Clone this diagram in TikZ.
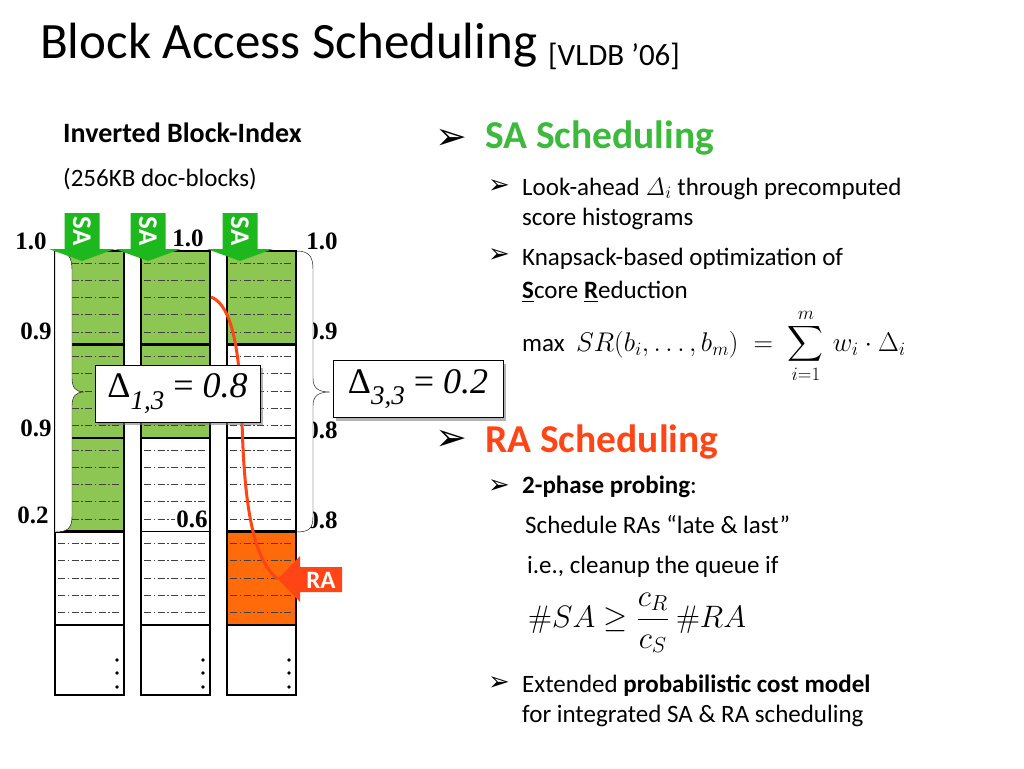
\RequirePackage{fix-cm}
\documentclass[tikz,border=0pt]{standalone}
\usepackage{amsmath}
\usepackage[no-math]{fontspec}
\setmainfont{Carlito}
\newfontfamily\timesfont{Liberation Serif}
\newfontfamily\dingfont{DejaVu Sans}
\usetikzlibrary{positioning, shadows}
\definecolor{blkgreen}{HTML}{8DC653}
\definecolor{sagreen}{HTML}{1DB81D}
\definecolor{hdgreen}{HTML}{3DB93D}
\definecolor{raorange}{HTML}{FF6A0A}
\definecolor{rared}{HTML}{FF4515}
\newcommand{\fsz}[1]{\fontsize{#1}{#1}\selectfont}

\begin{document}
\begin{tikzpicture}[x=1pt,y=-1pt,
  lbl/.style={font=\timesfont\bfseries\fsz{25}, inner sep=0pt},
  txt/.style={anchor=base west, inner sep=0pt, font=\fsz{25}},
  bul/.style={inner sep=0pt, font=\dingfont\fsz{26}},
  dbox/.style={draw, fill=white, thin, minimum width=165pt, minimum height=57pt, inner sep=0pt, font=\timesfont\fsz{36}, drop shadow={shadow xshift=3pt, shadow yshift=-3pt, fill=black!50, opacity=0.6}},
  dashln/.style={black!75, line width=0.7pt, dash pattern=on 7pt off 2.5pt on 1.5pt off 2.5pt},
  thickblk/.style={line width=2.8pt}] %page is 1024x768, y runs down
   \useasboundingbox (0,0) rectangle (1024,768);
   % title
   \node[txt, font=\fsz{51}] (title) at (40,59) {Block Access Scheduling};
   \node[txt, font=\fsz{31}] (vldb) at (548,66) {[VLDB ’06]};
   \node[txt, font=\bfseries\fsz{28}] (ibi) at (63,142) {Inverted Block-Index};
   \node[txt] (dblk) at (63,186) {(256KB doc-blocks)};
   % coloured blocks
   \foreach \x/\n in {55/3,141/2,227/1}
     \foreach \k in {1,...,\n}
       \fill[blkgreen] (\x,{251+93.5*(\k-1)}) rectangle ++(69,93.5);
   \fill[raorange] (227,531.5) rectangle ++(69,93.5);
   % dash-dot rules inside the blocks
   \foreach \x in {55,141,227}
     \foreach \k in {0,...,3}
       \foreach \j in {0,...,4}
         \draw[dashln] (\x+3,{251+93.5*\k+12+17.25*\j}) -- ++(63,0);
   % column frames and dots
   \foreach \x in {55,141,227}{
     \draw[line width=1.3pt] (\x,251) rectangle ++(69,444);
     \foreach \k in {1,...,4} \draw[line width=1.3pt] (\x,{251+93.5*\k}) -- ++(69,0);
     \foreach \d in {660,673,687} \fill (\x+62,\d) circle (1.8pt);
   }
   \foreach \x/\n in {55/3,141/2,227/1}
     \foreach \k in {1,...,\n}
       \draw[thickblk] (\x,{251+93.5*(\k-1)}) rectangle ++(69,93.5);
   \draw[thickblk] (227,531.5) rectangle ++(69,93.5);
   % score labels
   \node[lbl] (a1) at (31,241) {1.0};
   \node[lbl] (a2) at (36,331) {0.9};
   \node[lbl] (a3) at (36,428) {0.9};
   \node[lbl] (a4) at (33,515) {0.2};
   \node[lbl] (b1) at (188,238) {1.0};
   \node[lbl, fill=white, inner sep=1pt] (b4) at (192,519) {0.6};
   \node[lbl] (c1) at (322,241) {1.0};
   \node[lbl] (c2) at (322,331) {0.9};
   \node[lbl] (c3) at (322,430) {0.8};
   \node[lbl] (c4) at (322,520) {0.8};
   % braces
   \filldraw[fill=white, thin] (55,251) .. controls (68,251) and (72,257) .. (72,270) -- (72,378) .. controls (72,388) and (76,392) .. (84,392) .. controls (76,392) and (72,396) .. (72,406) -- (72,516) .. controls (72,528) and (68,532) .. (55,532) -- cycle;
   \fill[white] (297.5,251) .. controls (310,251) and (313,257) .. (313,270) -- (313,378) .. controls (313,388) and (318,392) .. (330,392) .. controls (318,392) and (313,396) .. (313,406) -- (313,516) .. controls (313,528) and (310,532) .. (297.5,532) -- cycle;
   \draw[thin] (296,251) .. controls (310,251) and (313,257) .. (313,270) -- (313,378) .. controls (313,388) and (318,392) .. (330,392) .. controls (318,392) and (313,396) .. (313,406) -- (313,516) .. controls (313,528) and (310,532) .. (296,532);
   % RA arrow and the probe curve
   \coordinate (src) at (211,297);
   \coordinate (ratip) at (278,579);
   \draw[rared, line width=3pt] (src) .. controls (232,305) and (240,350) .. (242,420) .. controls (244,500) and (252,560) .. (ratip);
   \fill[rared] (ratip) -- (300,556) -- (300,567) -- (342,567) -- (342,592) -- (300,592) -- (300,602) -- cycle;
   \node[text=white, font=\bfseries\fsz{25}, inner sep=0pt] (ra) at (321,580) {RA};
   % SA arrows
   \foreach \c/\i in {82/1,148/2,240/3}{
     \fill[sagreen] (\c-17.5,213) -- (\c+17.5,213) -- (\c+17.5,249) -- (\c+33,249) -- (\c,261) -- (\c-33,249) -- (\c-17.5,249) -- cycle;
     \node[rotate=-90, text=white, font=\bfseries\fsz{27}, inner sep=0pt] (sa\i) at (\c,231) {SA};
   }
   % delta boxes
   \node[dbox] (d13) at (177.5,393.5) {Δ\raisebox{-0.32em}{\fsz{27}\itshape 1,3} = {\itshape 0.8}};
   \node[dbox, minimum width=170pt] (d33) at (418,389) {Δ\raisebox{-0.32em}{\fsz{27}\itshape 3,3} = {\itshape 0.2}};
   % right column text
   \node[bul, font=\dingfont\fsz{38}] (m1) at (451,139) {➢};
   \node[txt, font=\bfseries\fsz{39.5}, text=hdgreen] (sah) at (485,148) {SA Scheduling};
   \node[bul] (s1) at (499,187) {➢};
   \node[txt] (t1) at (522,195) {Look-ahead $\mathit{\Delta}_i$ through precomputed};
   \node[txt] (t2) at (522,225) {score histograms};
   \node[bul] (s2) at (499,256) {➢};
   \node[txt] (t3) at (522,265) {Knapsack-based optimization of};
   \node[txt] (t4) at (522,298) {\underline{\textbf{S}}core \underline{\textbf{R}}eduction};
   \node[txt] (f1) at (522,351) {max\ \ {\fsz{27}$SR(b_i,\ldots,b_m) \;=\; \displaystyle\sum_{i=1}^{m}\, w_i\cdot\Delta_i$}};
   \node[bul, font=\dingfont\fsz{38}] (m2) at (451,440) {➢};
   \node[txt, font=\bfseries\fsz{39.5}, text=rared] (rah) at (485,452) {RA Scheduling};
   \node[bul] (s3) at (499,487) {➢};
   \node[txt] (t5) at (522,493) {\textbf{2-phase probing}:};
   \node[txt] (t6) at (525,533) {Schedule RAs “late \& last”};
   \node[txt] (t7) at (527,573) {i.e., cleanup the queue if};
   \node[txt, font=\fsz{31}] (f2) at (528,627) {$\#SA \geq \dfrac{c_R}{c_S}\ \#RA$};
   \node[bul] (s4) at (499,684) {➢};
   \node[txt] (t8) at (522,692) {Extended \textbf{probabilistic cost model}};
   \node[txt] (t9) at (522,722) {for integrated SA \& RA scheduling};
\end{tikzpicture}
\end{document}
